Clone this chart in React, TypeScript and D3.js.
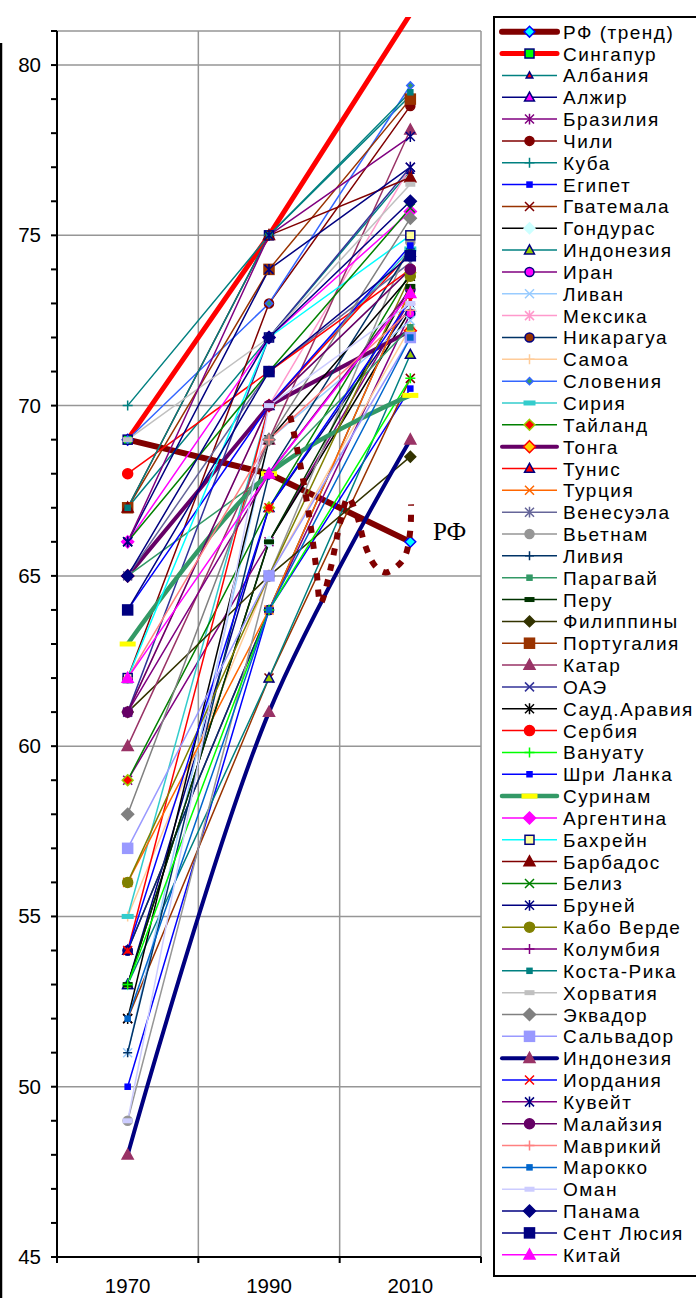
import React from "react";
import * as d3 from "d3";

const years = [1970, 1990, 2010];
const seriesNames = [
  "РФ (тренд)", "Сингапур", "Албания", "Алжир", "Бразилия", "Чили", "Куба", "Египет", "Гватемала", "Гондурас",
  "Индонезия", "Иран", "Ливан", "Мексика", "Никарагуа", "Самоа", "Словения", "Сирия", "Тайланд", "Тонга",
  "Тунис", "Турция", "Венесуэла", "Вьетнам", "Ливия", "Парагвай", "Перу", "Филиппины", "Португалия", "Катар",
  "ОАЭ", "Сауд.Аравия", "Сербия", "Вануату", "Шри Ланка", "Суринам", "Аргентина", "Бахрейн", "Барбадос", "Белиз",
  "Бруней", "Кабо Верде", "Колумбия", "Коста-Рика", "Хорватия", "Эквадор", "Сальвадор", "Индонезия", "Иордания", "Кувейт",
  "Малайзия", "Маврикий", "Марокко", "Оман", "Панама", "Сент Люсия", "Китай",
];
const values1970 = [
  69, 69, 67, 53, 59, 62, 70, 50, 52, 53,
  53, 54, 51, 61, 54, 55, 69, 55, 59, 65,
  54, 56, 65, 49, 51, 65, 53, 61, 67, 60,
  61, 52, 68, 53, 64, 63, 66, 62, 67, 66,
  66, 56, 61, 67, 69, 58, 57, 48, 54, 66,
  61, 62, 52, 49, 65, 64, 62,
];
const values1990 = [
  68, 75, 72, 67, 66, 73, 75, 64, 62, 66,
  62, 64, 69, 70, 64, 65, 73, 70, 67, 70,
  70, 64, 71, 65, 68, 68, 66, 65, 74, 69,
  72, 69, 71, 64, 70, 68, 72, 72, 75, 71,
  74, 65, 68, 75, 72, 69, 65, 61, 67, 75,
  70, 69, 64, 70, 72, 71, 68,
];
const values2010 = [
  66, 81.5, 76.9, 72.9, 73.1, 78.8, 79.1, 70.5, 70.8, 72.8,
  71.5, 72.7, 72.5, 77.0, 73.4, 72.3, 79.4, 74.6, 73.9, 72.2,
  74.5, 73.4, 74.2, 74.8, 74.6, 72.3, 73.5, 68.5, 79.0, 78.1,
  77.0, 73.8, 74.0, 70.8, 74.7, 70.3, 75.7, 75.0, 76.7, 75.8,
  77.0, 73.8, 73.4, 79.2, 76.5, 75.5, 72.0, 69.0, 73.1, 77.9,
  74.0, 72.8, 72.0, 73.0, 76.0, 74.4, 73.3,
];

const rfYears = [1993.0, 1994.4, 1995.8, 1996.7, 1997.3, 1998.7, 2000.1, 2001.2, 2002.4, 2003.6, 2005.0, 2006.5, 2008.2, 2009.3, 2010.0, 2010.1];
const rfValues = [69.7, 68.3, 66.6, 65.2, 64.2, 65.2, 66.6, 67.3, 66.8, 65.9, 65.3, 65.1, 65.3, 65.6, 66.35, 67.1];

const yTicksMajor = [45, 50, 55, 60, 65, 70, 75, 80];
const xGridYears = [1980, 2000, 2020];

type Style = { c: string; w: number; m: string; f: string; s: string; z: number; smooth?: boolean };
const styles: Style[] = [
  { c: "#800000", w: 6, m: "diamond", f: "#00FFFF", s: "#0000FF", z: 9 },
  { c: "#FF0000", w: 5, m: "square", f: "#00FF00", s: "#000080", z: 9 },
  { c: "#008080", w: 1.5, m: "triangle", f: "#FF0000", s: "#000080", z: 6 },
  { c: "#000080", w: 1.5, m: "triangle", f: "#FF00FF", s: "#000080", z: 9 },
  { c: "#800080", w: 1.5, m: "asterisk", f: "none", s: "#800080", z: 9 },
  { c: "#800000", w: 1.5, m: "circle", f: "#800000", s: "#800000", z: 9 },
  { c: "#008080", w: 1.5, m: "plus", f: "none", s: "#008080", z: 10 },
  { c: "#0000FF", w: 1.5, m: "square", f: "#0000FF", s: "#0000FF", z: 5 },
  { c: "#993300", w: 1.5, m: "x", f: "none", s: "#800000", z: 9 },
  { c: "#000000", w: 1.5, m: "diamond", f: "#CCFFFF", s: "#CCFFFF", z: 9 },
  { c: "#008080", w: 1.5, m: "triangle", f: "#99CC00", s: "#000080", z: 9 },
  { c: "#800080", w: 1.5, m: "circle", f: "#FF00FF", s: "#000080", z: 9 },
  { c: "#99CCFF", w: 1.5, m: "x", f: "none", s: "#99CCFF", z: 9 },
  { c: "#FF99CC", w: 1.5, m: "asterisk", f: "none", s: "#FF99CC", z: 9 },
  { c: "#003366", w: 1.5, m: "circle", f: "#993300", s: "#000080", z: 9 },
  { c: "#FFCC99", w: 1.5, m: "plus", f: "none", s: "#FFCC99", z: 10 },
  { c: "#3366FF", w: 1.5, m: "diamond", f: "#339966", s: "#3366FF", z: 6 },
  { c: "#33CCCC", w: 1.5, m: "dash", f: "#33CCCC", s: "#33CCCC", z: 12 },
  { c: "#008000", w: 1.5, m: "diamond", f: "#FF0000", s: "#99CC00", z: 9 },
  { c: "#660066", w: 4, m: "diamond", f: "#FFCC00", s: "#FF0000", z: 10 },
  { c: "#FF0000", w: 1.5, m: "triangle", f: "#FF0000", s: "#000080", z: 9 },
  { c: "#FF6600", w: 1.5, m: "x", f: "none", s: "#FF6600", z: 9 },
  { c: "#666699", w: 1.5, m: "asterisk", f: "none", s: "#666699", z: 9 },
  { c: "#969696", w: 1.5, m: "circle", f: "#969696", s: "#969696", z: 9 },
  { c: "#003366", w: 1.5, m: "plus", f: "none", s: "#003366", z: 9 },
  { c: "#339966", w: 1.5, m: "square", f: "#339966", s: "#339966", z: 5 },
  { c: "#003300", w: 1.5, m: "dash", f: "#003300", s: "#003300", z: 10 },
  { c: "#333300", w: 1.5, m: "diamond", f: "#333300", s: "#333300", z: 9 },
  { c: "#993300", w: 1.5, m: "square", f: "#993300", s: "#993300", z: 10 },
  { c: "#993366", w: 1.5, m: "triangle", f: "#993366", s: "#993366", z: 10 },
  { c: "#333399", w: 1.5, m: "x", f: "none", s: "#333399", z: 9 },
  { c: "#000000", w: 1.5, m: "asterisk", f: "none", s: "#000000", z: 9 },
  { c: "#FF0000", w: 1.5, m: "circle", f: "#FF0000", s: "#FF0000", z: 10 },
  { c: "#00FF00", w: 1.5, m: "plus", f: "none", s: "#00FF00", z: 10 },
  { c: "#0000FF", w: 1.5, m: "square", f: "#0000FF", s: "#0000FF", z: 5 },
  { c: "#339966", w: 4.5, m: "dash", f: "#FFFF00", s: "#FFFF00", z: 16, smooth: true },
  { c: "#FF00FF", w: 1.5, m: "diamond", f: "#FF00FF", s: "#FF00FF", z: 10 },
  { c: "#00FFFF", w: 1.5, m: "square", f: "#FFFF99", s: "#000080", z: 9 },
  { c: "#800000", w: 1.5, m: "triangle", f: "#800000", s: "#800000", z: 10 },
  { c: "#008000", w: 1.5, m: "x", f: "none", s: "#008000", z: 9 },
  { c: "#000080", w: 1.5, m: "asterisk", f: "none", s: "#000080", z: 9 },
  { c: "#808000", w: 1.5, m: "circle", f: "#808000", s: "#808000", z: 10 },
  { c: "#800080", w: 1.5, m: "plus", f: "none", s: "#800080", z: 10 },
  { c: "#008080", w: 1.5, m: "square", f: "#008080", s: "#008080", z: 5 },
  { c: "#C0C0C0", w: 1.5, m: "dash", f: "#C0C0C0", s: "#C0C0C0", z: 10 },
  { c: "#808080", w: 1.5, m: "diamond", f: "#808080", s: "#808080", z: 10 },
  { c: "#9999FF", w: 1.5, m: "square", f: "#9999FF", s: "#9999FF", z: 10 },
  { c: "#000080", w: 4, m: "triangle", f: "#993366", s: "#993366", z: 10, smooth: true },
  { c: "#0000FF", w: 1.5, m: "x", f: "none", s: "#FF0000", z: 9 },
  { c: "#800080", w: 1.5, m: "asterisk", f: "none", s: "#000080", z: 9 },
  { c: "#660066", w: 1.5, m: "circle", f: "#660066", s: "#660066", z: 10 },
  { c: "#FF8080", w: 1.5, m: "plus", f: "none", s: "#FF8080", z: 10 },
  { c: "#0066CC", w: 1.5, m: "square", f: "#0066CC", s: "#0066CC", z: 5 },
  { c: "#CCCCFF", w: 1.5, m: "dash", f: "#CCCCFF", s: "#CCCCFF", z: 10 },
  { c: "#000080", w: 1.5, m: "diamond", f: "#000080", s: "#000080", z: 10 },
  { c: "#000080", w: 1.5, m: "square", f: "#000080", s: "#000080", z: 10 },
  { c: "#FF00FF", w: 1.5, m: "triangle", f: "#FF00FF", s: "#FF00FF", z: 10 },
];

const W = 696;
const H = 1298;
const x = d3.scaleLinear().domain([1960, 2020]).range([57, 481]);
const y = d3.scaleLinear().domain([45, 81]).range([1257, 31]);
const FONT = "'Liberation Sans', Arial, sans-serif";

function Marker({ st, cx, cy }: { st: Style; cx: number; cy: number }) {
  const r = st.z / 2;
  const t = `translate(${cx},${cy})`;
  switch (st.m) {
    case "diamond":
      return <path transform={t} d={`M0,${-r * 1.2}L${r * 1.2},0L0,${r * 1.2}L${-r * 1.2},0Z`} fill={st.f} stroke={st.s} strokeWidth={1.5} />;
    case "square":
      return <rect transform={t} x={-r} y={-r} width={2 * r} height={2 * r} fill={st.f} stroke={st.s} strokeWidth={1.5} />;
    case "triangle":
      return <path transform={t} d={`M0,${-r * 1.15}L${r * 1.1},${r * 0.85}L${-r * 1.1},${r * 0.85}Z`} fill={st.f} stroke={st.s} strokeWidth={1.5} />;
    case "circle":
      return <circle transform={t} r={r} fill={st.f} stroke={st.s} strokeWidth={1.5} />;
    case "dash":
      return <rect transform={t} x={-r} y={-2.5} width={2 * r} height={5} fill={st.f} />;
    case "x":
      return <path transform={t} d={`M${-r},${-r}L${r},${r}M${-r},${r}L${r},${-r}`} stroke={st.s} strokeWidth={1.5} fill="none" />;
    case "plus":
      return <path transform={t} d={`M${-r},0L${r},0M0,${-r}L0,${r}`} stroke={st.s} strokeWidth={1.5} fill="none" />;
    case "asterisk":
      return <path transform={t} d={`M${-r},${-r}L${r},${r}M${-r},${r}L${r},${-r}M0,${-r * 1.2}L0,${r * 1.2}`} stroke={st.s} strokeWidth={1.5} fill="none" />;
    default:
      return null;
  }
}

export default function App() {
  const rows = seriesNames.map((name, i) => ({
    name,
    st: styles[i],
    pts: years.map((yr, k) => [yr, [values1970[i], values1990[i], values2010[i]][k]] as [number, number]),
  }));
  const straight = d3.line<[number, number]>().x((d) => x(d[0])).y((d) => y(d[1]));
  const smooth = d3.line<[number, number]>().x((d) => x(d[0])).y((d) => y(d[1])).curve(d3.curveCatmullRom.alpha(0.5));
  const rfPath = d3
    .line<number>()
    .x((d, i) => x(rfYears[i]))
    .y((d) => y(d))
    .curve(d3.curveCatmullRom.alpha(0.5))(rfValues);

  const minorTicks = d3.range(45, 82, 1);
  const legendTop = 31.7;
  const legendStep = 21.84;

  return (
    <div style={{ position: "absolute", left: 0, top: 0 }}>
      <svg width={W} height={H} style={{ display: "block", background: "#fff" }}>
        <defs>
          <clipPath id="plotclip">
            <rect x={0} y={17} width={492} height={1260} />
          </clipPath>
        </defs>
        <line x1={1} x2={1} y1={43} y2={H} stroke="#000" strokeWidth={2.5} />
        {yTicksMajor.slice(1).map((v) => (
          <line key={"gy" + v} x1={x(1960)} x2={x(2020)} y1={y(v)} y2={y(v)} stroke="#969696" strokeWidth={1.5} />
        ))}
        <line x1={x(1960)} x2={x(2020)} y1={y(81)} y2={y(81)} stroke="#969696" strokeWidth={1.5} />
        {xGridYears.map((v) => (
          <line key={"gx" + v} x1={x(v)} x2={x(v)} y1={y(81)} y2={y(45)} stroke="#969696" strokeWidth={1.5} />
        ))}
        <g clipPath="url(#plotclip)">
          {rows.map((r, i) => (
            <path key={"l" + i} d={(r.st.smooth ? smooth : straight)(r.pts) || ""} fill="none" stroke={r.st.c} strokeWidth={r.st.w} strokeLinejoin="round" />
          ))}
          {rows.map((r, i) => (
            <g key={"m" + i}>
              {r.pts.map((p, k) => (p[1] <= 81 ? <Marker key={k} st={r.st} cx={x(p[0])} cy={y(p[1])} /> : null))}
            </g>
          ))}
          <path d={rfPath || ""} fill="none" stroke="#800000" strokeWidth={6} strokeDasharray="7,9" />
        </g>
        <text x={433} y={540} fontFamily="'Liberation Serif', 'Times New Roman', serif" fontSize={25} fill="#000">РФ</text>
        <line x1={x(1960)} x2={x(1960)} y1={y(81)} y2={y(45)} stroke="#000" strokeWidth={2} />
        <line x1={x(1960)} x2={x(2020)} y1={y(45)} y2={y(45)} stroke="#000" strokeWidth={2} />
        {minorTicks.map((v) => (
          <line key={"t" + v} x1={51} x2={x(1960)} y1={y(v)} y2={y(v)} stroke="#000" strokeWidth={2} />
        ))}
        {[1960, ...xGridYears].map((v) => (
          <line key={"tx" + v} x1={x(v)} x2={x(v)} y1={y(45)} y2={y(45) + 6} stroke="#000" strokeWidth={2} />
        ))}
        {yTicksMajor.map((v) => (
          <text key={"yl" + v} x={41} y={y(v) + 7} textAnchor="end" fontFamily={FONT} fontSize={20.5} fill="#000">{v}</text>
        ))}
        {years.map((v) => (
          <text key={"xl" + v} x={x(v)} y={1293} textAnchor="middle" fontFamily={FONT} fontSize={20.5} fill="#000">{v}</text>
        ))}
        <rect x={494} y={17} width={210} height={1259} fill="#fff" stroke="#000" strokeWidth={2} />
        {rows.map((r, i) => {
          const ly = legendTop + i * legendStep;
          return (
            <g key={"lg" + i}>
              <line x1={502} x2={557} y1={ly} y2={ly} stroke={r.st.c} strokeWidth={r.st.w} strokeLinecap={r.st.w > 3 ? "round" : "butt"} />
              <Marker st={r.st} cx={529.5} cy={ly} />
              <text x={563} y={ly + 7} fontFamily={FONT} fontSize={19} letterSpacing={1.5} fill="#000">{r.name}</text>
            </g>
          );
        })}
      </svg>
    </div>
  );
}
